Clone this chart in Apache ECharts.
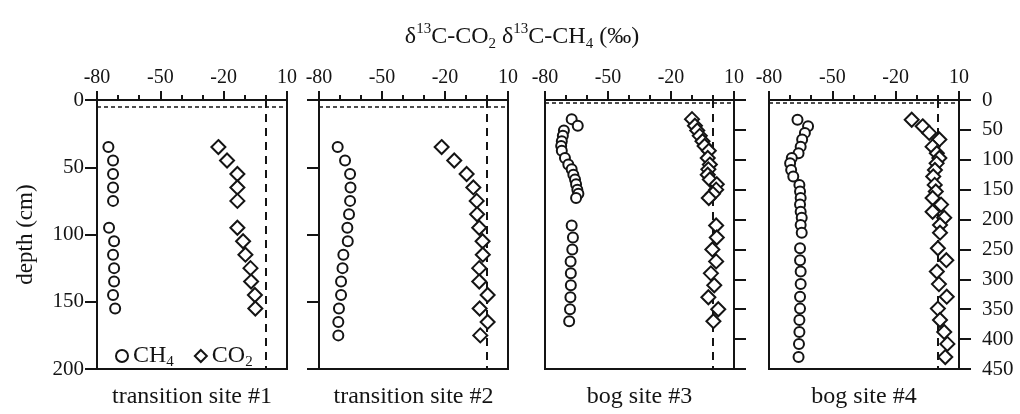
<!DOCTYPE html>
<html>
<head>
<meta charset="utf-8">
<script src="https://cdn.jsdelivr.net/npm/echarts@6/dist/echarts.min.js"></script>
<style>
  html, body { margin: 0; padding: 0; background: #fff; }
  #chart { width: 1020px; height: 414px; }
</style>
</head>
<body>
<div id="chart"></div>
<script>
// Depth profiles of δ13C (‰) in pore-water CO2 and CH4, depth in cm.

const siteNames = ['transition site #1', 'transition site #2', 'bog site #3', 'bog site #4'];

const site1Depth = [35, 45, 55, 65, 75, 95, 105, 115, 125, 135, 145, 155];
const site1CH4 = [-74.6, -72.4, -72.4, -72.4, -72.4, -74.3, -71.9, -72.4, -71.9, -71.9, -72.4, -71.4];
const site1CO2 = [-22.5, -18.4, -13.5, -13.5, -13.5, -13.5, -10.8, -9.7, -7.3, -7.0, -5.2, -5.0];

const site2Depth = [35, 45, 55, 65, 75, 85, 95, 105, 115, 125, 135, 145, 155, 165, 175];
const site2CH4 = [-71.1, -67.6, -65.2, -65.0, -65.2, -65.7, -66.5, -66.3, -68.4, -68.8, -69.5, -69.5, -70.5, -70.8, -70.8];
const site2CO2 = [-21.6, -15.6, -9.7, -6.5, -4.9, -4.7, -3.7, -2.1, -2.0, -3.7, -3.7, 0.3, -3.5, 0.3, -3.2];

const site3Depth = [32, 43, 51, 60, 69, 77, 85, 97, 108, 116, 125, 133, 141, 150, 157, 164,
                    210, 230, 250, 270, 290, 310, 330, 350, 370];
const site3CH4 = [-67.3, -64.4, -71.0, -71.5, -72.0, -72.3, -72.0, -70.5, -68.9, -67.3, -66.5, -65.7, -65.2, -64.6, -64.1, -65.2,
                  -67.3, -66.7, -67.0, -67.8, -67.7, -67.7, -67.9, -68.1, -68.5];
const site3CO2 = [-10.0, -8.6, -7.5, -6.3, -5.0, -4.0, -2.0, -2.5, -1.5, -2.2, -2.5, -1.5, 1.8, 1.5, 0.0, -2.0,
                  1.5, 1.8, -0.3, 1.5, -1.0, 0.6, -2.2, 2.5, 0.2];

const site4Depth = [33, 44, 55, 66, 78, 89, 97, 106, 117, 128, 142, 153, 164, 175, 187, 197, 209, 222,
                    248, 268, 287, 308, 329, 349, 368, 388, 408, 430];
const site4CH4 = [-66.5, -61.5, -63.0, -64.3, -65.0, -66.0, -69.2, -70.0, -69.5, -68.5, -65.6, -65.3, -65.0, -65.3, -65.0, -64.5, -65.0, -64.5,
                  -65.3, -65.3, -65.0, -65.0, -65.3, -65.3, -65.6, -65.6, -65.8, -66.0];
const site4CO2 = [-12.4, -7.2, -4.1, 0.7, -2.5, -0.5, 0.7, -0.6, -1.4, -2.2, -1.5, -1.0, -2.5, 1.5, -2.5, 3.0, 1.0, 1.0,
                  0.0, 4.0, -0.5, 0.5, 4.2, 0.0, 1.0, 3.0, 4.5, 3.5];

const depths = [site1Depth, site2Depth, site3Depth, site4Depth];
const ch4 = [site1CH4, site2CH4, site3CH4, site4CH4];
const co2 = [site1CO2, site2CO2, site3CO2, site4CO2];

const deltaMin = -80, deltaMax = 10, deltaStep = 30;
const depthMax = [200, 200, 450, 450];
const depthStep = 50;
const waterTableDepth = 5;
const referenceDelta = 0;

const INK = '#141414';
const FONT = '"Liberation Serif", "DejaVu Serif", serif';

// panel boxes
const panels = [
  { left: 97, width: 190 },
  { left: 319, width: 189 },
  { left: 545, width: 189 },
  { left: 769, width: 190 }
];
const gridTop = 100, gridHeight = 272;

const grids = panels.map(p => ({
  left: p.left, top: gridTop, width: p.width, height: gridHeight,
  show: true, borderColor: INK, borderWidth: 2, backgroundColor: 'transparent'
}));

const tickStyle = { color: INK, width: 2 };

const topAxes = panels.map((p, i) => ({
  type: 'value', gridIndex: i, position: 'top',
  min: deltaMin, max: deltaMax, interval: deltaStep,
  axisLine: { show: false, onZero: false },
  axisTick: { show: true, length: 9, lineStyle: tickStyle },
  minorTick: { show: true, splitNumber: 3, length: 5, lineStyle: tickStyle },
  splitLine: { show: false }, minorSplitLine: { show: false },
  axisLabel: { fontFamily: FONT, fontSize: 20, color: INK, margin: 12 }
}));

const bottomAxes = panels.map((p, i) => ({
  type: 'value', gridIndex: i, position: 'bottom',
  min: deltaMin, max: deltaMax,
  axisLine: { show: false, onZero: false }, axisTick: { show: false }, axisLabel: { show: false },
  splitLine: { show: false },
  name: siteNames[i], nameLocation: 'middle', nameGap: 16,
  nameTextStyle: { fontFamily: FONT, fontSize: 24, color: INK }
}));

const yAxes = panels.map((p, i) => ({
  type: 'value', gridIndex: i, inverse: true,
  min: 0, max: depthMax[i], interval: depthStep,
  position: i < 2 ? 'left' : 'right',
  axisLine: { show: false, onZero: false },
  axisTick: { show: true, length: 12, lineStyle: tickStyle },
  splitLine: { show: false },
  axisLabel: {
    show: i === 0 || i === 3,
    fontFamily: FONT, fontSize: 21, color: INK, margin: i === 0 ? 13 : 23
  },
  name: i === 0 ? 'depth (cm)' : '',
  nameLocation: 'middle', nameGap: 60, nameRotate: 90,
  nameTextStyle: { fontFamily: FONT, fontSize: 23, color: INK }
}));

const series = [];
panels.forEach((p, i) => {
  series.push({
    type: 'scatter', name: 'CH4', xAxisIndex: i, yAxisIndex: i,
    data: depths[i].map((d, k) => [ch4[i][k], d]),
    symbol: 'circle', symbolSize: 10, z: 3,
    itemStyle: { color: '#fff', borderColor: INK, borderWidth: 2, opacity: 1 },
    emphasis: { disabled: true },
    markLine: {
      silent: true, symbol: 'none', z: 1, animation: false,
      label: { show: false },
      data: [
        { yAxis: waterTableDepth, lineStyle: { type: [4, 3], width: 1.6, color: INK } },
        { xAxis: referenceDelta, lineStyle: { type: [8, 6], width: 2, color: INK } }
      ]
    }
  });
  series.push({
    type: 'scatter', name: 'CO2', xAxisIndex: i, yAxisIndex: i,
    data: depths[i].map((d, k) => [co2[i][k], d]),
    symbol: 'diamond', symbolSize: [14, 14], z: 3,
    itemStyle: { color: '#fff', borderColor: INK, borderWidth: 2, opacity: 1 },
    emphasis: { disabled: true }
  });
});

const chart = echarts.init(document.getElementById('chart'), null, { renderer: 'canvas' });
chart.setOption({
  animation: false,
  backgroundColor: '#fff',
  textStyle: { fontFamily: FONT, color: INK },
  grid: grids,
  xAxis: topAxes.concat(bottomAxes),
  yAxis: yAxes,
  legend: {
    selectedMode: false,
    left: 110, top: 339,
    itemWidth: 12, itemHeight: 12, itemGap: 20,
    data: [{ name: 'CH4', icon: 'circle' }, { name: 'CO2', icon: 'diamond' }],
    itemStyle: { color: '#fff', borderColor: INK, borderWidth: 2 },
    formatter: name => name === 'CH4' ? '{b|CH}{s|4}' : '{b|CO}{s|2}',
    textStyle: {
      fontFamily: FONT, color: INK, fontSize: 24,
      rich: {
        b: { fontFamily: FONT, fontSize: 24, color: INK, lineHeight: 28 },
        s: { fontFamily: FONT, fontSize: 15, color: INK, lineHeight: 15, verticalAlign: 'bottom' }
      }
    }
  },
  graphic: [{
    type: 'text', x: 522, y: 37, silent: true,
    style: {
      text: '{n|δ}{p|13}{n|C-CO}{b|2}{n| δ}{p|13}{n|C-CH}{b|4}{n| (‰)}',
      align: 'center', verticalAlign: 'middle',
      rich: {
        n: { fontFamily: FONT, fontSize: 24, fill: INK, lineHeight: 30 },
        p: { fontFamily: FONT, fontSize: 15, fill: INK, lineHeight: 15, verticalAlign: 'top' },
        b: { fontFamily: FONT, fontSize: 15, fill: INK, lineHeight: 15, verticalAlign: 'bottom' }
      }
    }
  }],
  series: series
});
</script>
</body>
</html>
